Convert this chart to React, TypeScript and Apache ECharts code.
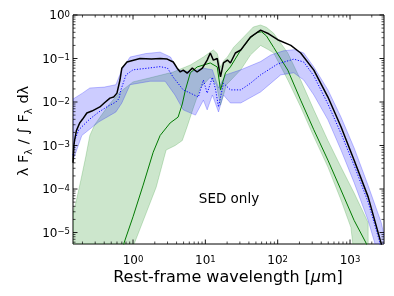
import { useEffect, useRef } from 'react';
import * as echarts from 'echarts';

const FONT = 'DejaVu Sans';
const X_MIN = 0.148;
const X_MAX = 2950;
const Y_MIN = 5.45e-6;
const Y_MAX = 1;

// Composite SED (black)
const blackLine: number[][] = [
  [0.148, 4e-4], [0.152, 1.0e-3], [0.156, 1.35e-3], [0.165, 2.2e-3], [0.183, 3.3e-3], [0.2, 4.0e-3],
  [0.23, 5.6e-3], [0.27, 6.2e-3], [0.348, 7.7e-3], [0.4, 9.5e-3], [0.48, 0.0123], [0.54, 0.013],
  [0.6, 0.016], [0.66, 0.032], [0.7, 0.06], [0.825, 0.083], [1.25, 0.1], [1.8, 0.098], [2.37, 0.1],
  [2.97, 0.097], [3.6, 0.083], [4.08, 0.06], [4.5, 0.049], [4.95, 0.054], [5.6, 0.046], [6.6, 0.06],
  [7.7, 0.049], [9.1, 0.06], [10.6, 0.092], [11.7, 0.134], [12.9, 0.092], [14.6, 0.1], [16.2, 0.038],
  [17.8, 0.079], [20.2, 0.092], [22.2, 0.079], [26, 0.134], [30.9, 0.157], [42, 0.31], [58, 0.45],
  [75, 0.37], [100, 0.27], [152, 0.2], [208, 0.134], [316, 0.054], [495, 0.013], [750, 2.7e-3],
  [1140, 4.6e-4], [1780, 6.6e-5], [2450, 9.8e-6], [2800, 4.5e-6],
];

// Mean SED of second sample (blue dotted) and its range
const blueLine: number[][] = [
  [0.148, 6e-4], [0.156, 1.3e-3], [0.178, 2.3e-3], [0.25, 4e-3], [0.337, 5.9e-3], [0.45, 8e-3],
  [0.58, 0.01], [0.64, 0.012], [0.68, 0.019], [0.8, 0.042], [1.0, 0.055], [1.6, 0.06], [2.37, 0.065],
  [3.0, 0.06], [3.6, 0.037], [4.95, 0.019], [6.2, 0.016], [8.0, 0.013], [9.4, 0.032], [10.6, 0.016],
  [12.5, 0.037], [13.8, 0.02], [15.2, 0.0077], [17.8, 0.027], [22.2, 0.019], [30.9, 0.019], [42, 0.027],
  [58, 0.042], [100, 0.075], [167, 0.097], [229, 0.083], [316, 0.04], [495, 9e-3], [750, 1.9e-3],
  [1140, 3.5e-4], [1780, 5e-5], [2530, 6.7e-6], [2700, 4e-6],
];
const blueUpper: number[][] = [
  [0.14, 0.011], [0.2, 0.016], [0.253, 0.021], [0.4, 0.022], [0.58, 0.025], [0.65, 0.04], [0.7, 0.055],
  [0.91, 0.108], [1.5, 0.13], [2.37, 0.14], [3.3, 0.108], [4.1, 0.055], [6.2, 0.049], [9.4, 0.06],
  [12.5, 0.055], [15.2, 0.021], [19, 0.042], [30.9, 0.055], [58, 0.085], [80, 0.12], [120, 0.15],
  [170, 0.16], [229, 0.134], [316, 0.064], [495, 0.019], [750, 4.5e-3], [1140, 8.8e-4], [1780, 1.2e-4],
  [2700, 1.7e-5], [3100, 6e-6],
];
const blueLower: number[][] = [
  [0.14, 3.5e-4], [0.196, 1.7e-3], [0.337, 3.5e-3], [0.58, 5.9e-3], [0.7, 9.5e-3], [0.91, 0.025],
  [1.72, 0.03], [2.78, 0.03], [3.8, 0.0145], [4.95, 6.6e-3], [7.3, 5e-3], [9.4, 0.011], [10.6, 6.6e-3],
  [12.5, 0.0145], [15.2, 5.9e-3], [17.8, 0.0145], [22.2, 9.5e-3], [30.9, 9.5e-3], [58, 0.017],
  [110, 0.042], [167, 0.047], [229, 0.032], [316, 0.0145], [495, 3.9e-3], [750, 7.9e-4], [1140, 1.4e-4],
  [1780, 1.9e-5], [2230, 5.3e-6], [3100, 1e-6],
];

// SED-only model (green) and its range
const greenLine: number[][] = [
  [0.7, 3e-6], [0.75, 5.7e-6], [1.0, 2.3e-5], [1.38, 1.23e-4], [1.9, 7e-4], [2.37, 1.7e-3],
  [3.26, 3.3e-3], [4.2, 4.5e-3], [4.8, 9e-3], [5.3, 0.019], [6.2, 0.047], [7.7, 0.064], [11.7, 0.079],
  [14.6, 0.064], [16.2, 0.019], [19, 0.047], [22.2, 0.064], [30.9, 0.157], [42, 0.3], [52, 0.4],
  [60, 0.41], [70, 0.33], [88, 0.18], [138, 0.054], [208, 0.011], [316, 2.3e-3], [495, 4.6e-4],
  [750, 9.5e-5], [1140, 1.9e-5], [1670, 5.7e-6], [1750, 4.5e-6],
];
const greenUpper: number[][] = [
  [0.14, 2e-5], [0.162, 4.8e-5], [0.19, 1.6e-4], [0.222, 5.5e-4], [0.253, 1.7e-3], [0.295, 3e-3],
  [0.46, 8.5e-3], [0.66, 0.017], [1.0, 0.029], [1.72, 0.036], [3.6, 0.049], [6.2, 0.071], [9.4, 0.108],
  [12.9, 0.158], [14.6, 0.13], [16.2, 0.063], [18, 0.09], [20.2, 0.108], [24.5, 0.18], [33.7, 0.31],
  [46, 0.53], [58, 0.59], [70, 0.52], [88, 0.38], [138, 0.134], [208, 0.032], [316, 6.6e-3],
  [495, 1.3e-3], [750, 3.2e-4], [1140, 8.1e-5], [1780, 1.7e-5], [1790, 1e-6],
];
const greenLower: number[][] = [
  [0.14, 1e-6], [1.0, 3.5e-6], [1.03, 5.3e-6], [1.52, 2.8e-5], [2.09, 1.1e-4], [2.87, 7.9e-4],
  [3.83, 1.0e-3], [4.8, 1.3e-3], [5.6, 2.7e-3], [6.8, 7.2e-3], [8.5, 0.021], [11.7, 0.037],
  [14.2, 0.025], [16.2, 8.5e-3], [19.6, 0.025], [30.9, 0.055], [42, 0.12], [58, 0.2], [75, 0.158],
  [88, 0.134], [138, 0.032], [208, 7.7e-3], [316, 1.6e-3], [495, 3.2e-4], [750, 5.6e-5],
  [1030, 1.3e-5], [1140, 3e-6],
];

const xDecades = [-1, 0, 1, 2, 3];
const yDecades = [-6, -5, -4, -3, -2, -1, 0];
const minorMults = [2, 3, 4, 5, 6, 7, 8, 9];

function buildTicks(decades: number[], lo: number, hi: number) {
  const out: [number, boolean][] = [];
  for (const d of decades) {
    const base = Math.pow(10, d);
    if (base >= lo && base <= hi) out.push([base, true]);
    for (const m of minorMults) {
      const v = m * base;
      if (v > lo && v < hi) out.push([v, false]);
    }
  }
  return out;
}

function expLabel(v: number) {
  const l = Math.log10(v);
  const e = Math.round(l);
  if (Math.abs(l - e) > 0.01) return '';
  const s = e < 0 ? '\u2212' + Math.abs(e) : String(e);
  return '{b|10}{s|' + s + '}';
}

function bandSeries(upper: number[][], lower: number[][], fill: string, stroke: string, z: number) {
  return {
    type: 'custom',
    z,
    clip: true,
    silent: true,
    data: [[1, 0.01]],
    renderItem: (_params: any, api: any) => {
      const pts = upper.concat(lower.slice().reverse()).map((p) => api.coord(p));
      return {
        type: 'polygon',
        shape: { points: pts },
        style: { fill, stroke, lineWidth: 0.8 },
      };
    },
  };
}

export default function App() {
  const ref = useRef<HTMLDivElement>(null);
  useEffect(() => {
    const chart = echarts.init(ref.current!, null, { renderer: 'svg' });
    const xTicks = buildTicks(xDecades, X_MIN, X_MAX);
    const yTicks = buildTicks(yDecades, Y_MIN, Y_MAX);
    const labelRich = {
      b: { fontSize: 12, lineHeight: 12, fontFamily: FONT, color: '#000' },
      s: { fontSize: 8.5, lineHeight: 8, fontFamily: FONT, color: '#000', verticalAlign: 'top' },
    };
    const option: any = {
      animation: false,
      grid: { left: 73, top: 15, right: 10, bottom: 52, show: true, borderColor: '#000', borderWidth: 1, backgroundColor: 'transparent' },
      xAxis: {
        type: 'log', logBase: 10, min: X_MIN, max: X_MAX,
        axisLine: { show: false }, axisTick: { show: false }, splitLine: { show: false },
        axisLabel: { formatter: expLabel, rich: labelRich, margin: 10 },
      },
      yAxis: {
        type: 'log', logBase: 10, min: Y_MIN, max: Y_MAX,
        axisLine: { show: false }, axisTick: { show: false }, splitLine: { show: false },
        axisLabel: { formatter: expLabel, rich: labelRich, margin: 3 },
      },
      series: [
        bandSeries(greenUpper, greenLower, 'rgba(0,128,0,0.2)', 'rgba(0,128,0,0.25)', 1),
        bandSeries(blueUpper, blueLower, 'rgba(0,0,255,0.2)', 'rgba(0,0,255,0.3)', 2),
        { type: 'line', data: greenLine, symbol: 'none', z: 3, lineStyle: { color: '#007a00', width: 1 } },
        { type: 'line', data: blueLine, symbol: 'none', z: 4, lineStyle: { color: '#0000ff', width: 1, type: [1.2, 1.6] } },
        { type: 'line', data: blackLine, symbol: 'none', z: 5, lineStyle: { color: '#000', width: 1.5 } },
        {
          type: 'custom', z: 10, silent: true, clip: false, data: [[1, 0.01]],
          renderItem: (params: any, api: any) => {
            const cs = params.coordSys;
            const L = cs.x, R = cs.x + cs.width, T = cs.y, B = cs.y + cs.height;
            const children: any[] = [];
            const ln = (x1: number, y1: number, x2: number, y2: number, major: boolean) => ({
              type: 'line', shape: { x1, y1, x2, y2 }, style: { stroke: '#000', lineWidth: major ? 0.9 : 0.7 },
            });
            for (const [v, major] of xTicks) {
              const x = api.coord([v, 1e-3])[0];
              const len = major ? 4.5 : 2.5;
              children.push(ln(x, B, x, B - len, major), ln(x, T, x, T + len, major));
            }
            for (const [v, major] of yTicks) {
              const y = api.coord([1, v])[1];
              const len = major ? 4.5 : 2.5;
              children.push(ln(L, y, L + len, y, major), ln(R, y, R - len, y, major));
            }
            return { type: 'group', children };
          },
        },
      ],
      graphic: [
        {
          type: 'text', x: 228, y: 276,
          style: {
            text: '{a|Rest-frame wavelength [}{i|\u03bc}{a|m]}',
            align: 'center', verticalAlign: 'middle',
            rich: {
              a: { fontSize: 16, lineHeight: 16, fontFamily: FONT, fill: '#000' },
              i: { fontSize: 16, lineHeight: 16, fontFamily: FONT, fontStyle: 'italic', fill: '#000' },
            },
          },
        },
        {
          type: 'text', x: 23, y: 131, rotation: Math.PI / 2,
          style: {
            text: '{a|\u03bb F}{s|\u03bb}{a| / \u222b F}{s|\u03bb}{a| d\u03bb}',
            align: 'center', verticalAlign: 'middle',
            rich: {
              a: { fontSize: 14.5, lineHeight: 20, fontFamily: FONT, fill: '#000' },
              s: { fontSize: 10, lineHeight: 10, fontFamily: FONT, fill: '#000', verticalAlign: 'bottom' },
            },
          },
        },
        {
          type: 'text', x: 229, y: 198,
          style: { text: 'SED only', fontSize: 13.5, fontFamily: FONT, fill: '#000', align: 'center', verticalAlign: 'middle' },
        },
      ],
    };
    chart.setOption(option);
    return () => chart.dispose();
  }, []);
  return <div ref={ref} style={{ position: 'fixed', left: 0, top: 0, width: 394, height: 296 }} />;
}
